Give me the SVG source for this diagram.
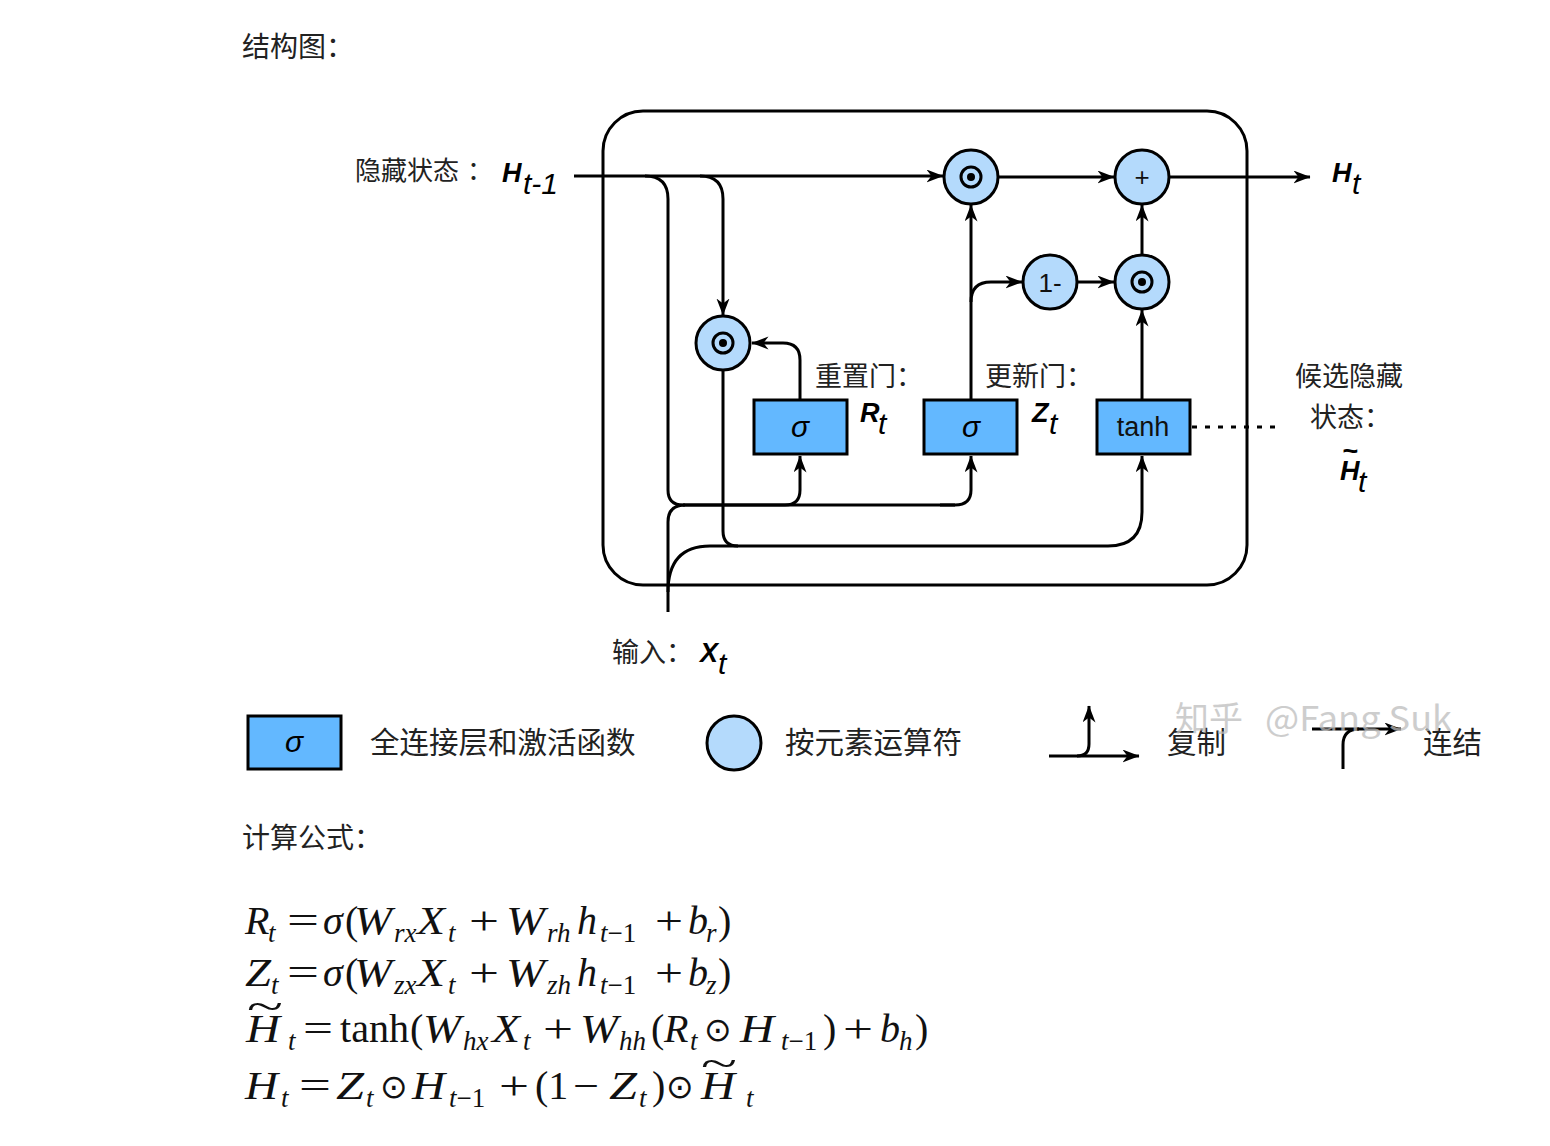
<svg xmlns="http://www.w3.org/2000/svg" width="1550" height="1146" viewBox="0 0 1550 1146">
<defs>
<marker id="ah" markerUnits="userSpaceOnUse" markerWidth="18" markerHeight="14" refX="16.5" refY="6.5" orient="auto">
<path d="M0,0 L17,6.5 L0,13 L5,6.5 Z" fill="#000"/>
</marker>
<style>
.ln{fill:none;stroke:#000;stroke-width:3}
.ar{marker-end:url(#ah)}
.op{fill:#b4dafc;stroke:#000;stroke-width:3}
.fc{fill:#63b8ff;stroke:#000;stroke-width:3}
.cjk{font-family:"Noto Sans CJK SC","Liberation Sans",sans-serif;fill:#222}
.lat{font-family:"Liberation Sans",Arial,sans-serif;fill:#111}
.bi{font-family:"Liberation Sans",Arial,sans-serif;font-weight:bold;font-style:italic;font-size:27px}
.si{font-family:"Liberation Sans",Arial,sans-serif;font-style:italic;font-size:30px}
.m{font-family:"Liberation Serif","Times New Roman",serif;font-size:40px;fill:#111}
.mi{font-style:italic}
.sb{font-size:27px;font-style:italic}
.sbu{font-size:27px}
.od{font-family:"DejaVu Sans","Liberation Serif",serif;font-size:33px}
</style>
</defs>
<rect width="1550" height="1146" fill="#fff"/>
<text class="cjk" x="242" y="57" font-size="28">结构图：</text>
<g id="cell-frame"><rect x="603" y="111" width="644" height="474" rx="40" ry="40" fill="none" stroke="#000" stroke-width="3"/></g>
<g id="connectors">
<path class="ln ar" d="M574,176 L943,176"/>
<path class="ln" d="M645,176 Q668,176 668,199 L668,490 Q668,505 683,505 L955,505"/>
<path class="ln ar" d="M683,505 L785,505 Q800,505 800,490 L800,456"/>
<path class="ln ar" d="M940,505 L955,505 Q971,505 971,490 L971,456"/>
<path class="ln" d="M668,612 L668,522 Q668,505 685,505"/>
<path class="ln ar" d="M668,592 Q668,546 710,546 L1108,546 Q1142,546 1142,512 L1142,456"/>
<path class="ln" d="M723,370 L723,531 Q723,546 738,546"/>
<path class="ln ar" d="M700,176 Q723,176 723,199 L723,315"/>
<path class="ln ar" d="M800,400 L800,360 Q800,343 783,343 L752,343"/>
<path class="ln ar" d="M971,400 L971,205"/>
<path class="ln ar" d="M971,302 Q971,282 991,282 L1022,282"/>
<path class="ln ar" d="M1077,282 L1114,282"/>
<path class="ln ar" d="M1142,255 L1142,205"/>
<path class="ln ar" d="M1142,400 L1142,310"/>
<path class="ln ar" d="M998,177 L1114,177"/>
<path class="ln ar" d="M1169,177 L1310,177"/>
<path d="M1192,427 L1276,427" fill="none" stroke="#000" stroke-width="3" stroke-dasharray="5 8"/>
</g>
<g id="op-mul1"><circle class="op" cx="971" cy="177" r="27"/><circle cx="971" cy="177" r="10" fill="none" stroke="#000" stroke-width="3"/><circle cx="971" cy="177" r="4" fill="#000"/></g>
<g id="op-add"><circle class="op" cx="1142" cy="177" r="27"/><text class="lat" x="1142" y="186" font-size="26" text-anchor="middle">+</text></g>
<g id="op-one-minus"><circle class="op" cx="1050" cy="282" r="27"/><text class="lat" x="1050" y="292" font-size="26" text-anchor="middle">1-</text></g>
<g id="op-mul2"><circle class="op" cx="1142" cy="282" r="27"/><circle cx="1142" cy="282" r="10" fill="none" stroke="#000" stroke-width="3"/><circle cx="1142" cy="282" r="4" fill="#000"/></g>
<g id="op-mul-reset"><circle class="op" cx="723" cy="343" r="27"/><circle cx="723" cy="343" r="10" fill="none" stroke="#000" stroke-width="3"/><circle cx="723" cy="343" r="4" fill="#000"/></g>
<g id="gate-reset"><rect class="fc" x="754" y="400" width="93" height="54"/><text class="si" x="800" y="437" text-anchor="middle">σ</text></g>
<g id="gate-update"><rect class="fc" x="924" y="400" width="93" height="54"/><text class="si" x="971" y="437" text-anchor="middle">σ</text></g>
<g id="cand-tanh"><rect class="fc" x="1097" y="400" width="93" height="54"/><text class="lat" x="1143" y="436" font-size="27" text-anchor="middle">tanh</text></g>
<g id="labels">
<text class="cjk" x="355" y="180" font-size="26">隐藏状态<tspan x="467">：</tspan></text>
<text class="bi" x="502" y="182">H</text><text class="si" x="523" y="194" font-size="28">t-1</text>
<text class="bi" x="1332" y="182">H</text><text class="si" x="1352" y="194" font-size="28">t</text>
<text class="cjk" x="815" y="386" font-size="27">重置门：</text>
<text class="bi" x="860" y="422">R</text><text class="si" x="878" y="434" font-size="28">t</text>
<text class="cjk" x="985" y="386" font-size="27">更新门：</text>
<text class="bi" x="1032" y="422">Z</text><text class="si" x="1049" y="434" font-size="28">t</text>
<text class="cjk" x="1295" y="386" font-size="27">候选隐藏</text>
<text class="cjk" x="1310" y="427" font-size="27">状态：</text>
<text class="bi" x="1350" y="460" font-size="24" text-anchor="middle">~</text>
<text class="bi" x="1340" y="480">H</text><text class="si" x="1358" y="492" font-size="28">t</text>
<text class="cjk" x="612" y="662" font-size="27">输入：</text>
<text class="bi" x="700" y="662">X</text><text class="si" x="718" y="674" font-size="28">t</text>
</g>
<g id="legend">
<g id="legend-fc"><rect class="fc" x="248" y="716" width="93" height="53"/><text class="si" x="294" y="752" text-anchor="middle">σ</text></g>
<text class="cjk" x="370" y="753" font-size="29.5">全连接层和激活函数</text>
<g id="legend-op"><circle class="op" cx="734" cy="743" r="27"/></g>
<text class="cjk" x="785" y="753" font-size="29.5">按元素运算符</text>
<g id="legend-copy"><path class="ln ar" d="M1049,756 L1139,756"/><path class="ln ar" d="M1077,756 Q1089,756 1089,744 L1089,706"/></g>
<text class="cjk" x="1167" y="753" font-size="29.5">复制</text>
<g id="legend-concat"><path class="ln ar" d="M1312,729 L1401,729"/><path class="ln" d="M1343,769 L1343,745 Q1343,729 1359,729"/></g>
<text class="cjk" x="1423" y="753" font-size="29.5">连结</text>
</g>
<text y="731" font-size="34" fill="#bdbdbd" opacity="0.75" font-family="Noto Sans CJK SC, Liberation Sans, sans-serif"><tspan x="1175">知乎</tspan><tspan x="1265" textLength="187" lengthAdjust="spacingAndGlyphs">@Fang Suk</tspan></text>
<text class="cjk" x="242" y="848" font-size="28">计算公式：</text>
<g id="formulas">
<text class="m"><tspan class="mi" x="245" y="934">R</tspan><tspan class="sb" x="268" y="942">t</tspan><tspan x="287" y="934" textLength="32" lengthAdjust="spacingAndGlyphs">=</tspan><tspan class="mi" x="323" y="934">σ</tspan><tspan x="345" y="934">(</tspan><tspan class="mi" x="354" y="934" textLength="38" lengthAdjust="spacingAndGlyphs">W</tspan><tspan class="sb" x="394" y="942">rx</tspan><tspan class="mi" x="417" y="934" textLength="28" lengthAdjust="spacingAndGlyphs">X</tspan><tspan class="sb" x="448" y="942">t</tspan><tspan x="469" y="934" textLength="30" lengthAdjust="spacingAndGlyphs">+</tspan><tspan class="mi" x="506" y="934" textLength="39" lengthAdjust="spacingAndGlyphs">W</tspan><tspan class="sb" x="547" y="942">rh</tspan><tspan class="mi" x="577" y="934">h</tspan><tspan class="sb" x="600" y="942">t</tspan><tspan class="sbu" y="942">−1</tspan><tspan x="655" y="934" textLength="28" lengthAdjust="spacingAndGlyphs">+</tspan><tspan class="mi" x="688" y="934">b</tspan><tspan class="sb" x="706" y="942">r</tspan><tspan x="718" y="934">)</tspan></text>
<text class="m"><tspan class="mi" x="245" y="986" textLength="26" lengthAdjust="spacingAndGlyphs">Z</tspan><tspan class="sb" x="271" y="994">t</tspan><tspan x="287" y="986" textLength="32" lengthAdjust="spacingAndGlyphs">=</tspan><tspan class="mi" x="323" y="986">σ</tspan><tspan x="345" y="986">(</tspan><tspan class="mi" x="354" y="986" textLength="38" lengthAdjust="spacingAndGlyphs">W</tspan><tspan class="sb" x="394" y="994">zx</tspan><tspan class="mi" x="417" y="986" textLength="28" lengthAdjust="spacingAndGlyphs">X</tspan><tspan class="sb" x="448" y="994">t</tspan><tspan x="469" y="986" textLength="30" lengthAdjust="spacingAndGlyphs">+</tspan><tspan class="mi" x="506" y="986" textLength="39" lengthAdjust="spacingAndGlyphs">W</tspan><tspan class="sb" x="547" y="994">zh</tspan><tspan class="mi" x="577" y="986">h</tspan><tspan class="sb" x="600" y="994">t</tspan><tspan class="sbu" y="994">−1</tspan><tspan x="655" y="986" textLength="28" lengthAdjust="spacingAndGlyphs">+</tspan><tspan class="mi" x="688" y="986">b</tspan><tspan class="sb" x="706" y="994">z</tspan><tspan x="718" y="986">)</tspan></text>
<text class="m" x="265" y="1020" font-size="32" text-anchor="middle" textLength="36" lengthAdjust="spacingAndGlyphs">~</text>
<text class="m"><tspan class="mi" x="246" y="1042" textLength="34" lengthAdjust="spacingAndGlyphs">H</tspan><tspan class="sb" x="288" y="1050">t</tspan><tspan x="303" y="1042" textLength="30" lengthAdjust="spacingAndGlyphs">=</tspan><tspan x="340" y="1042" textLength="69" lengthAdjust="spacingAndGlyphs">tanh</tspan><tspan x="410" y="1042">(</tspan><tspan class="mi" x="423" y="1042" textLength="38" lengthAdjust="spacingAndGlyphs">W</tspan><tspan class="sb" x="463" y="1050">hx</tspan><tspan class="mi" x="492" y="1042" textLength="28" lengthAdjust="spacingAndGlyphs">X</tspan><tspan class="sb" x="523" y="1050">t</tspan><tspan x="543" y="1042" textLength="30" lengthAdjust="spacingAndGlyphs">+</tspan><tspan class="mi" x="580" y="1042" textLength="38" lengthAdjust="spacingAndGlyphs">W</tspan><tspan class="sb" x="619" y="1050">hh</tspan><tspan x="651" y="1042">(</tspan><tspan class="mi" x="664" y="1042">R</tspan><tspan class="sb" x="690" y="1050">t</tspan><tspan class="od" x="704" y="1041">⊙</tspan><tspan class="mi" x="740" y="1042" textLength="34" lengthAdjust="spacingAndGlyphs">H</tspan><tspan class="sb" x="781" y="1050">t</tspan><tspan class="sbu" y="1050">−1</tspan><tspan x="823" y="1042">)</tspan><tspan x="843" y="1042" textLength="30" lengthAdjust="spacingAndGlyphs">+</tspan><tspan class="mi" x="880" y="1042">b</tspan><tspan class="sb" x="899" y="1050">h</tspan><tspan x="915" y="1042">)</tspan></text>
<text class="m" x="719" y="1077" font-size="32" text-anchor="middle" textLength="36" lengthAdjust="spacingAndGlyphs">~</text>
<text class="m"><tspan class="mi" x="245" y="1099" textLength="33" lengthAdjust="spacingAndGlyphs">H</tspan><tspan class="sb" x="281" y="1107">t</tspan><tspan x="299" y="1099" textLength="32" lengthAdjust="spacingAndGlyphs">=</tspan><tspan class="mi" x="336" y="1099" textLength="28" lengthAdjust="spacingAndGlyphs">Z</tspan><tspan class="sb" x="366" y="1107">t</tspan><tspan class="od" x="380" y="1098">⊙</tspan><tspan class="mi" x="412" y="1099" textLength="33" lengthAdjust="spacingAndGlyphs">H</tspan><tspan class="sb" x="449" y="1107">t</tspan><tspan class="sbu" y="1107">−1</tspan><tspan x="499" y="1099" textLength="30" lengthAdjust="spacingAndGlyphs">+</tspan><tspan x="535" y="1099">(1</tspan><tspan x="573" y="1099" textLength="26" lengthAdjust="spacingAndGlyphs">−</tspan><tspan class="mi" x="609" y="1099" textLength="28" lengthAdjust="spacingAndGlyphs">Z</tspan><tspan class="sb" x="639" y="1107">t</tspan><tspan x="652" y="1099">)</tspan><tspan class="od" x="666" y="1098">⊙</tspan><tspan class="mi" x="701" y="1099" textLength="34" lengthAdjust="spacingAndGlyphs">H</tspan><tspan class="sb" x="746" y="1107">t</tspan></text>
</g>
</svg>
